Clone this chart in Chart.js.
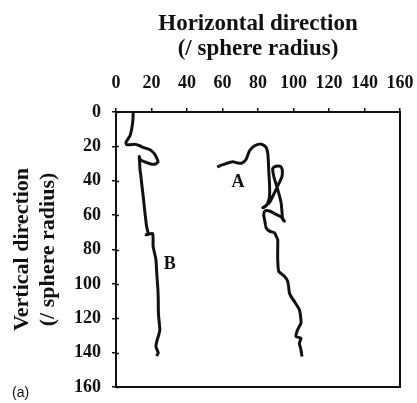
<!DOCTYPE html>
<html><head><meta charset="utf-8">
<script src="https://cdn.jsdelivr.net/npm/chart.js@4.4.0/dist/chart.umd.min.js"></script>
<style>html,body{margin:0;padding:0;background:#fff}#wrap{width:417px;height:403px}</style>
</head><body><div id="wrap"><canvas id="c" width="417" height="403"></canvas></div>
<script>
// ---- data ----
const xTickValues = [0, 20, 40, 60, 80, 100, 120, 140, 160];
const yTickValues = [0, 20, 40, 60, 80, 100, 120, 140, 160];
const xTitle = ['Horizontal direction', '(/ sphere radius)'];
const yTitle = ['Vertical direction', '(/ sphere radius)'];
const panelTag = '(a)';

// trajectory B (horizontal, vertical)
const bX = [9.7, 9.6, 9.4, 8.8, 7.9, 6.5, 5.6, 6.0, 8.0, 10.7, 13.0, 15.3, 18.0, 20.0, 21.8, 22.8, 23.7, 21.9, 19.5, 17.2, 15.0, 13.5, 13.1, 13.3, 13.5, 14.0, 14.4, 15.3, 16.3, 16.8, 17.2, 18.1, 17.0, 18.5, 20.6, 20.9, 20.9, 21.7, 22.5, 22.8, 23.2, 23.6, 23.8, 23.9, 24.3, 24.7, 24.0, 23.2, 22.5, 23.8, 22.8];
const bY = [0, 3, 6, 10, 13.8, 16, 17.7, 19, 19, 18.7, 19.5, 20.6, 21.5, 22.6, 24.5, 26.5, 29, 30.4, 30.2, 29.4, 28.5, 27.5, 25.9, 29, 33.3, 37, 41, 48.9, 58.6, 63, 66.4, 70.7, 71.5, 71, 70.7, 74, 78, 82, 85.8, 91, 97.5, 103, 109, 117, 122, 126.7, 130, 132.6, 136.5, 140.3, 142];

// trajectory A (horizontal, vertical)
const aX = [57, 59, 61, 63.5, 66, 68, 70.6, 72, 73.4, 75.2, 77, 78, 80.8, 82.5, 84.6, 85.5, 85.8, 86.1, 86.5, 86.5, 85.5, 84, 82.7, 84.5, 86.5, 90.2, 92.5, 93.6, 93.6, 92.5, 91.1, 89.5, 88.3, 88.6, 89.3, 91.1, 93, 93.5, 93.9, 94.9, 93, 90.2, 86.5, 84, 83.2, 83.7, 84.6, 86.5, 89.3, 90.2, 91.1, 91.1, 91.1, 91.7, 94.9, 96.7, 97.3, 97.7, 99, 100.5, 103.3, 104, 104.2, 102.3, 101.4, 104.2, 103.3, 104.2, 104.8];
const aY = [32, 31, 30.4, 29.5, 29, 29.5, 29.8, 29, 27.4, 22.6, 20.5, 19.7, 18.7, 19, 20.6, 24, 28, 35, 42, 48.9, 53, 55, 55.7, 54.5, 52.7, 45, 40, 37.2, 33.3, 31.6, 31.4, 31.8, 32.9, 36, 39.1, 45, 52.7, 58, 62.5, 63.5, 61, 59.6, 57.6, 57.5, 60, 62.5, 67.4, 69.3, 70.3, 72.2, 74.2, 80, 85.8, 92.7, 95.6, 98.5, 102, 105.3, 108, 110.2, 115, 119, 122.8, 126.7, 130.6, 131.6, 134.5, 138.4, 142.3];

// curve labels (data coordinates)
const curveNames = ['A', 'B'];
const curveLabelX = [68.7, 30.3];
const curveLabelY = [41, 88.8];

// ---- chart ----
const SERIF = "'Liberation Serif', 'Times New Roman', serif";
const toPts = (xs, ys) => xs.map((v, i) => ({x: v, y: ys[i]}));
const noPad = s => { s.paddingLeft = 0; s.paddingRight = 0; s.paddingTop = 0; s.paddingBottom = 0; };

const framePlugin = {
  id: 'frame',
  afterDraw(chart) {
    const {ctx, chartArea: ca} = chart;
    const ys = chart.scales.y;
    ctx.save();
    ctx.strokeStyle = '#111';
    ctx.lineWidth = 2;
    ctx.strokeRect(ca.left, ca.top, ca.right - ca.left, ca.bottom - ca.top);
    // inner half of crossing y ticks
    ctx.lineWidth = 1.5;
    yTickValues.forEach(v => {
      const p = Math.round(ys.getPixelForValue(v)) + 0.5;
      ctx.beginPath(); ctx.moveTo(ca.left, p); ctx.lineTo(ca.left + 3, p); ctx.stroke();
    });
    // curve labels
    ctx.fillStyle = '#111';
    ctx.font = "bold 18px " + SERIF;
    ctx.textAlign = 'center'; ctx.textBaseline = 'middle';
    curveNames.forEach((n, i) => {
      ctx.fillText(n, chart.scales.x.getPixelForValue(curveLabelX[i]), ys.getPixelForValue(curveLabelY[i]));
    });
    // panel tag
    ctx.font = "14px 'Liberation Sans', Arial, sans-serif";
    ctx.textAlign = 'left';
    ctx.fillText(panelTag, 12, 393);
    ctx.restore();
  }
};

new Chart(document.getElementById('c'), {
  type: 'scatter',
  data: {
    datasets: [
      {label: 'A', data: toPts(aX, aY), showLine: true, borderColor: '#111', borderWidth: 3, pointRadius: 0, tension: 0.2, fill: false},
      {label: 'B', data: toPts(bX, bY), showLine: true, borderColor: '#111', borderWidth: 3, pointRadius: 0, tension: 0.2, fill: false}
    ]
  },
  options: {
    responsive: false,
    animation: false,
    devicePixelRatio: 1,
    layout: {padding: {left: 0, top: 0, right: 17, bottom: 16}},
    plugins: {legend: {display: false}, tooltip: {enabled: false}},
    scales: {
      x: {
        type: 'linear', position: 'top', min: 0, max: 160,
        afterFit(s) { s.height = 112; noPad(s); },
        afterBuildTicks(s) { s.ticks = xTickValues.map(v => ({value: v})); },
        ticks: {color: '#111', padding: 14, font: {family: SERIF, size: 18, weight: 'bold'}},
        grid: {display: true, drawOnChartArea: false, tickLength: 4, color: '#111', lineWidth: 1.5},
        border: {display: false},
        title: {display: true, text: xTitle, color: '#111', padding: {top: 11.5, bottom: 0}, font: {family: SERIF, size: 23, weight: 'bold', lineHeight: 1.08}}
      },
      y: {
        type: 'linear', position: 'left', min: 0, max: 160, reverse: true,
        afterFit(s) { s.width = 116; noPad(s); },
        afterBuildTicks(s) { s.ticks = yTickValues.map(v => ({value: v})); },
        ticks: {color: '#111', padding: 11, font: {family: SERIF, size: 18, weight: 'bold'}},
        grid: {display: true, drawOnChartArea: false, tickLength: 4, color: '#111', lineWidth: 1.5},
        border: {display: false},
        title: {display: true, text: yTitle, color: '#111', padding: {top: 10, bottom: 0}, font: {family: SERIF, size: 22, weight: 'bold', lineHeight: 1.15}}
      }
    }
  },
  plugins: [framePlugin]
});
</script>
</body></html>
